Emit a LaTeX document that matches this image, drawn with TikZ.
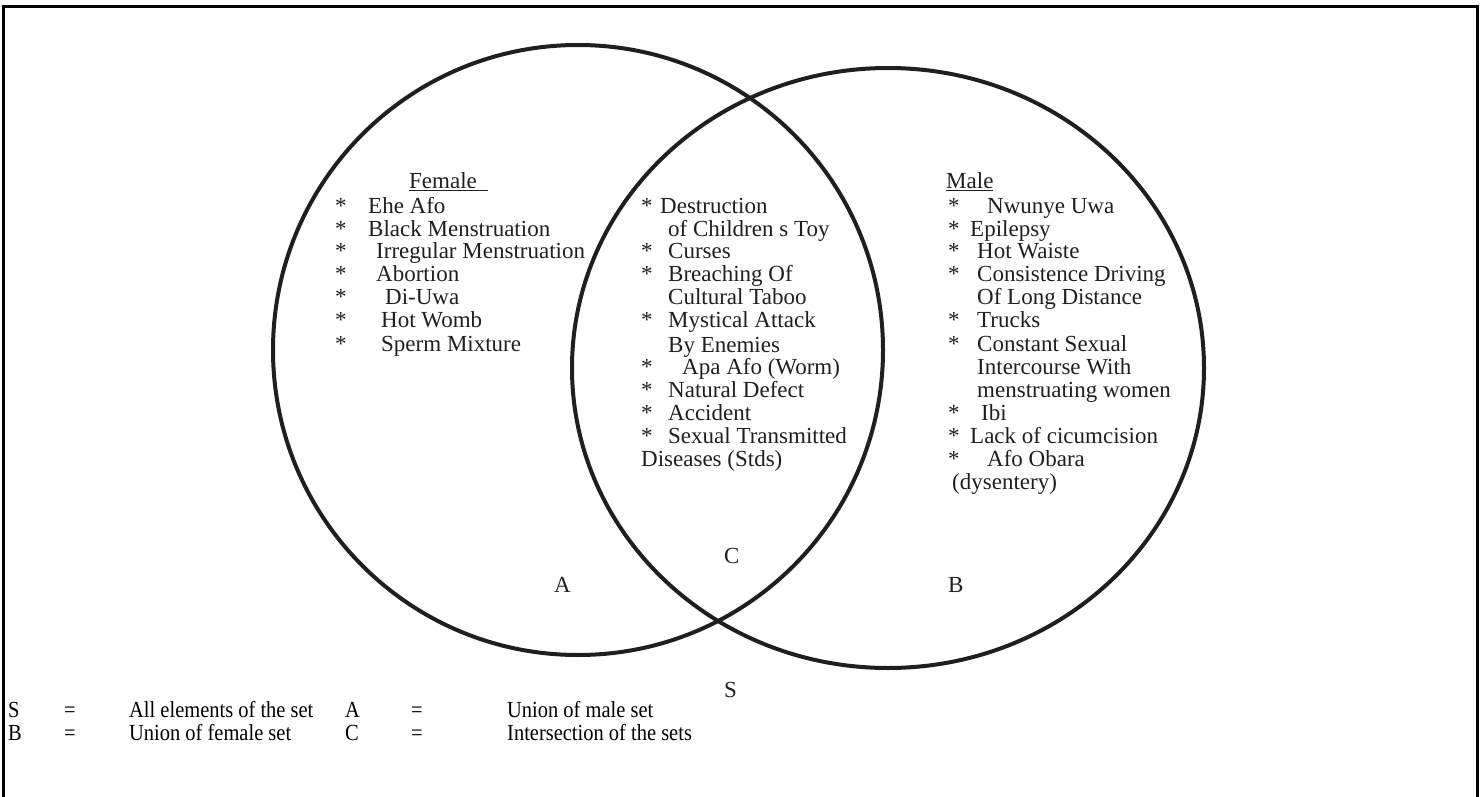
\documentclass[tikz,border=0pt]{standalone}
\usepackage{fontspec}
\setmainfont{Liberation Serif}
\newfontfamily\legfont{Liberation Serif}[FakeStretch=0.89]
\begin{document}
\begin{tikzpicture}[x=1pt,y=-1pt,
  txt/.style={anchor=base west, inner sep=0pt, text=black!88, font=\fontsize{23}{27}\selectfont},
  leg/.style={anchor=base west, inner sep=0pt, text=black, font=\legfont\fontsize{23}{27}\selectfont},
  ring/.style={line width=4pt, draw=black!88},
  frame/.style={line width=3pt, draw=black}]
\useasboundingbox (0,0) rectangle (1481,797);
\draw[frame] (3,797) -- (3,7) -- (1477,7) -- (1477,797);
% sets
\draw[ring] (578,350) circle[radius=305];
\draw[ring] (888,368) ellipse[x radius=316, y radius=300];
% headings
\node[txt] (fem) at (409,189) {\underline{Female\ \ }};
\node[txt] (mal) at (946,189) {\underline{Male}};
% female list
\foreach \ax/\tx/\y/\t [count=\i] in {335/368/213/Ehe Afo, 335/368/236/Black Menstruation,
  335/376/258/Irregular Menstruation, 335/376/281/Abortion, 335/385/304/Di-Uwa,
  335/381/327/Hot Womb, 335/381/351/Sperm Mixture}{
  \node[txt] (fa\i) at (\ax,\y) {*};
  \node[txt] (ft\i) at (\tx,\y) {\t};
}
% intersection list
\foreach \tx/\y/\t [count=\i] in {660/213/Destruction, 668/258/Curses, 668/281/Breaching Of,
  668/327/Mystical Attack, 682/374/Apa Afo (Worm), 668/397/Natural Defect,
  668/420/Accident, 668/443/Sexual Transmitted}{
  \node[txt] (ca\i) at (641,\y) {*};
  \node[txt] (ct\i) at (\tx,\y) {\t};
}
\foreach \tx/\y/\t [count=\i] in {668/236/of Children s Toy, 668/304/Cultural Taboo,
  668/352/By Enemies, 641/466/Diseases (Stds)}{
  \node[txt] (cc\i) at (\tx,\y) {\t};
}
% male list
\foreach \tx/\y/\t [count=\i] in {987/213/Nwunye Uwa, 970/236/Epilepsy, 977/258/Hot Waiste,
  977/281/Consistence Driving, 977/327/Trucks, 977/351/Constant Sexual,
  981/420/Ibi, 970/443/Lack of cicumcision, 987/466/Afo Obara}{
  \node[txt] (ma\i) at (948,\y) {*};
  \node[txt] (mt\i) at (\tx,\y) {\t};
}
\foreach \tx/\y/\t [count=\i] in {977/304/Of Long Distance, 977/374/Intercourse With,
  977/397/menstruating women, 952/489/(dysentery)}{
  \node[txt] (mc\i) at (\tx,\y) {\t};
}
% set letters
\node[txt] (lC) at (724,563) {C};
\node[txt] (lA) at (554,592) {A};
\node[txt] (lB) at (948,592) {B};
\node[txt] (lS) at (724,697) {S};
% legend
\node[leg] (g1) at (8,717) {S};
\node[leg] (g2) at (64,717) {=};
\node[leg] (g3) at (129,717) {All elements of the set};
\node[leg] (g4) at (345,717) {A};
\node[leg] (g5) at (411,717) {=};
\node[leg] (g6) at (507,717) {Union of male set};
\node[leg] (h1) at (8,740) {B};
\node[leg] (h2) at (64,740) {=};
\node[leg] (h3) at (129,740) {Union of female set};
\node[leg] (h4) at (345,740) {C};
\node[leg] (h5) at (411,740) {=};
\node[leg] (h6) at (507,740) {Intersection of the sets};
\end{tikzpicture}
\end{document}
